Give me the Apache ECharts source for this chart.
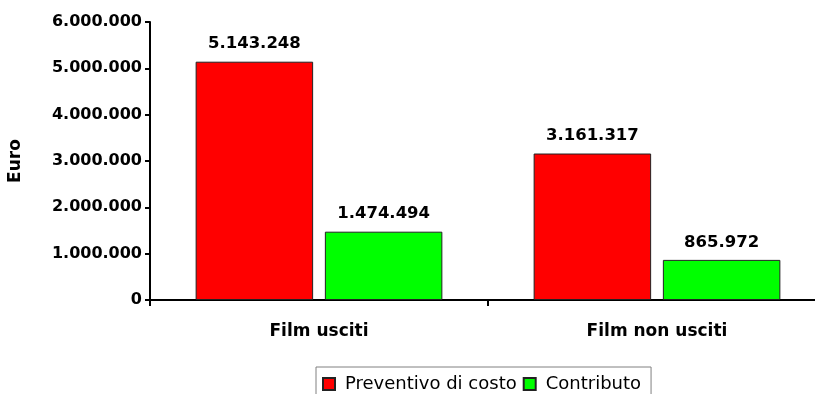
<!DOCTYPE html>
<html><head><meta charset="utf-8">
<script src="https://cdn.jsdelivr.net/npm/echarts@6/dist/echarts.min.js"></script>
<style>html,body{margin:0;padding:0;background:#fff}#c{width:815px;height:394px}</style>
</head><body><div id="c"></div>
<script>
const categories = ['Film usciti', 'Film non usciti'];
const preventivo = [5143248, 3161317];
const contributo = [1474494, 865972];
const seriesNames = ['Preventivo di costo', 'Contributo'];
const yTicks = [0, 1000000, 2000000, 3000000, 4000000, 5000000, 6000000];

function fmt(v){ return String(Math.round(v)).replace(/\B(?=(\d{3})+(?!\d))/g, '.'); }
const FF = '"DejaVu Sans", sans-serif';
const chart = echarts.init(document.getElementById('c'));
const labelStyle = { show: true, position: 'top', distance: 9, formatter: p => fmt(p.value),
  fontFamily: FF, fontSize: 16.5, fontWeight: 'bold', color: '#000' };
chart.setOption({
  animation: false,
  backgroundColor: '#fff',
  grid: { left: 150, top: 22, width: 676, height: 278, containLabel: false, outerBoundsMode: 'none' },
  legend: {
    left: 316, top: 367,
    data: seriesNames,
    itemWidth: 12, itemHeight: 12, itemGap: 6,
    padding: [8, 10, 8, 6],
    borderColor: '#808080', borderWidth: 1,
    icon: 'rect',
    textStyle: { fontFamily: FF, fontSize: 18, color: '#000', padding: [0, 0, 0, 5] }
  },
  xAxis: {
    type: 'category', data: categories,
    axisLine: { lineStyle: { color: '#000', width: 2 } },
    axisTick: { show: true, length: 6, inside: false, lineStyle: { color: '#000', width: 2 } },
    axisLabel: { fontFamily: FF, fontSize: 17, fontWeight: 'bold', color: '#000', margin: 23 }
  },
  yAxis: {
    type: 'value', min: 0, max: 6000000, interval: 1000000,
    name: 'Euro', nameLocation: 'middle', nameGap: 126, nameRotate: 90,
    nameTextStyle: { fontFamily: FF, fontSize: 17, fontWeight: 'bold', color: '#000' },
    axisLine: { show: true, lineStyle: { color: '#000', width: 2 } },
    axisTick: { show: true, length: 5, lineStyle: { color: '#000', width: 2 } },
    splitLine: { show: false },
    axisLabel: { fontFamily: FF, fontSize: 16, fontWeight: 'bold', color: '#000', margin: 8,
      formatter: v => yTicks.includes(v) ? fmt(v) : '' }
  },
  series: [
    { name: seriesNames[0], type: 'bar', data: preventivo, barGap: '10%', barCategoryGap: '27%',
      itemStyle: { color: '#ff0000', borderColor: '#222', borderWidth: 1 },
      label: labelStyle },
    { name: seriesNames[1], type: 'bar', data: contributo,
      itemStyle: { color: '#00ff00', borderColor: '#222', borderWidth: 1 },
      label: labelStyle }
  ]
});
</script></body></html>
